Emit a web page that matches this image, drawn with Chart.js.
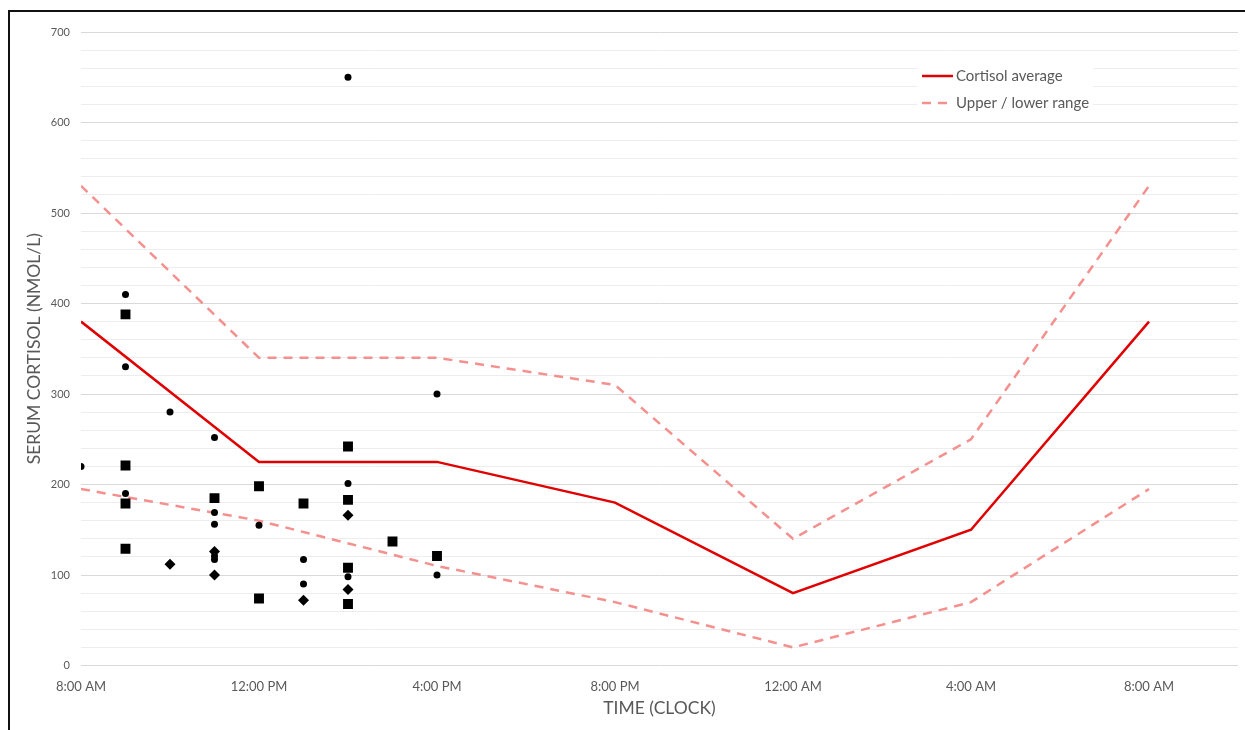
<!DOCTYPE html>
<html>
<head>
<meta charset="utf-8">
<script src="https://cdn.jsdelivr.net/npm/chart.js@4"></script>
<style>
  html, body { margin: 0; padding: 0; background: #fff; }
  canvas { display: block; }
</style>
</head>
<body>
<canvas id="cortisol" width="1245" height="730"></canvas>
<script>
////////////////// Data ///////////////////////

// clock hours from 8:00 AM (8) to 8:00 AM next day (32)
const lineHours = [8, 12, 16, 20, 24, 28, 32];
const averageValues = [380, 225, 225, 180, 80, 150, 380];
const upperValues = [530, 340, 340, 310, 140, 250, 530];
const lowerValues = [195, 160, 110, 70, 20, 70, 195];

// individual samples, split by marker shape
const circleHours = [8, 9, 9, 9, 10, 11, 11, 11, 11, 11, 12, 13, 13, 14, 14, 14, 16, 16];
const circleValues = [220, 410, 330, 190, 280, 252, 169, 156, 121, 117, 155, 117, 90, 650, 201, 98, 300, 100];

const squareHours = [9, 9, 9, 9, 11, 12, 12, 13, 14, 14, 14, 14, 15, 16];
const squareValues = [388, 221, 179, 129, 185, 198, 74, 179, 242, 183, 108, 68, 137, 121];

const diamondHours = [10, 11, 11, 13, 14, 14];
const diamondValues = [112, 126, 100, 72, 166, 84];

const xTickHours = [8, 12, 16, 20, 24, 28, 32];
const yLabelValues = [0, 100, 200, 300, 400, 500, 600, 700];

const toPoints = (xs, ys) => xs.map((x, i) => ({ x: x, y: ys[i] }));

const clockLabel = function (hour) {
  const h = hour % 24;
  const h12 = h % 12 === 0 ? 12 : h % 12;
  return h12 + ":00 " + (h < 12 ? "AM" : "PM");
};

const FONT = "Lato";
const GREY = "#595959";
const RED = "#e00000";
const PINK = "#f4908e";

////////////////// Plugins ///////////////////////

const frame = {
  id: "frame",
  beforeDraw(chart) {
    const ctx = chart.ctx;
    ctx.save();
    ctx.fillStyle = "#fff";
    ctx.fillRect(0, 0, chart.width, chart.height);
    ctx.strokeStyle = "#111";
    ctx.lineWidth = 2;
    ctx.beginPath();
    ctx.moveTo(9, chart.height);
    ctx.lineTo(9, 11);
    ctx.lineTo(chart.width, 11);
    ctx.stroke();
    ctx.restore();
  },
};

const insideLegend = {
  id: "insideLegend",
  afterDraw(chart) {
    const ctx = chart.ctx;
    const x = chart.chartArea.right - 316;
    const y = chart.chartArea.top + 44;
    const items = [
      { text: "Cortisol average", color: RED, dash: [] },
      { text: "Upper / lower range", color: PINK, dash: [9, 7] },
    ];
    ctx.save();
    ctx.fillStyle = "#fff";
    ctx.fillRect(x - 5, y - 13, 176, 54);
    ctx.font = "15px " + FONT;
    ctx.textBaseline = "middle";
    items.forEach((item, i) => {
      const yy = y + i * 27;
      ctx.strokeStyle = item.color;
      ctx.lineWidth = 2.5;
      ctx.setLineDash(item.dash);
      ctx.beginPath();
      ctx.moveTo(x, yy);
      ctx.lineTo(x + 31, yy);
      ctx.stroke();
      ctx.setLineDash([]);
      ctx.fillStyle = GREY;
      ctx.fillText(item.text, x + 34, yy);
    });
    ctx.restore();
  },
};

////////////////// Chart ///////////////////////

const scatterStyle = (shape, radius) => ({
  type: "scatter",
  pointStyle: shape,
  pointRadius: radius,
  pointBackgroundColor: "#000",
  pointBorderColor: "#000",
  pointBorderWidth: 0,
  showLine: false,
});

const ctx = document.getElementById("cortisol");
const myChart = new Chart(ctx, {
  type: "line",
  data: {
    datasets: [
      { label: "circles", data: toPoints(circleHours, circleValues), ...scatterStyle("circle", 3.5) },
      { label: "squares", data: toPoints(squareHours, squareValues), ...scatterStyle("rect", 7) },
      { label: "diamonds", data: toPoints(diamondHours, diamondValues), ...scatterStyle("rectRot", 5.5) },
      {
        label: "Cortisol average",
        data: toPoints(lineHours, averageValues),
        borderColor: RED,
        borderWidth: 2.5,
        pointRadius: 0,
        tension: 0,
        fill: false,
      },
      {
        label: "Upper / lower range",
        data: toPoints(lineHours, upperValues),
        borderColor: PINK,
        borderWidth: 2.5,
        borderDash: [9, 7],
        pointRadius: 0,
        tension: 0,
        fill: false,
      },
      {
        label: "Upper / lower range",
        data: toPoints(lineHours, lowerValues),
        borderColor: PINK,
        borderWidth: 2.5,
        borderDash: [9, 7],
        pointRadius: 0,
        tension: 0,
        fill: false,
      },
    ],
  },
  options: {
    responsive: false,
    animation: false,
    layout: {
      padding: { top: 32, right: 7, left: 0, bottom: 0 },
    },
    scales: {
      x: {
        type: "linear",
        min: 8,
        max: 34,
        afterBuildTicks: (scale) => {
          scale.ticks = xTickHours.map((v) => ({ value: v }));
        },
        afterFit: (scale) => {
          scale.height = 64.5;
        },
        ticks: {
          color: GREY,
          padding: 6,
          maxRotation: 0,
          font: { family: FONT, size: 13 },
          callback: (value) => clockLabel(value),
        },
        grid: { display: false },
        border: { display: false },
        title: {
          display: true,
          text: "TIME (CLOCK)",
          color: GREY,
          padding: { bottom: 11 },
          font: { family: FONT, size: 17.5 },
        },
      },
      y: {
        min: 0,
        max: 700,
        ticks: {
          stepSize: 20,
          color: GREY,
          padding: 11,
          font: { family: FONT, size: 11 },
          autoSkip: false,
          callback: (value) => (yLabelValues.includes(value) ? value : ""),
        },
        afterFit: (scale) => {
          scale.width = 81;
        },
        grid: {
          drawTicks: false,
          lineWidth: 1,
          color: (c) => (c.tick && c.tick.value % 100 === 0 ? "#d9d9d9" : "#ededed"),
        },
        border: { display: false },
        title: {
          display: true,
          text: "SERUM CORTISOL (NMOL/L)",
          color: GREY,
          padding: { top: 24 },
          font: { family: FONT, size: 17.5 },
        },
      },
    },
    plugins: {
      legend: { display: false },
      tooltip: { enabled: false },
    },
  },
  plugins: [frame, insideLegend],
});
</script>
</body>
</html>
